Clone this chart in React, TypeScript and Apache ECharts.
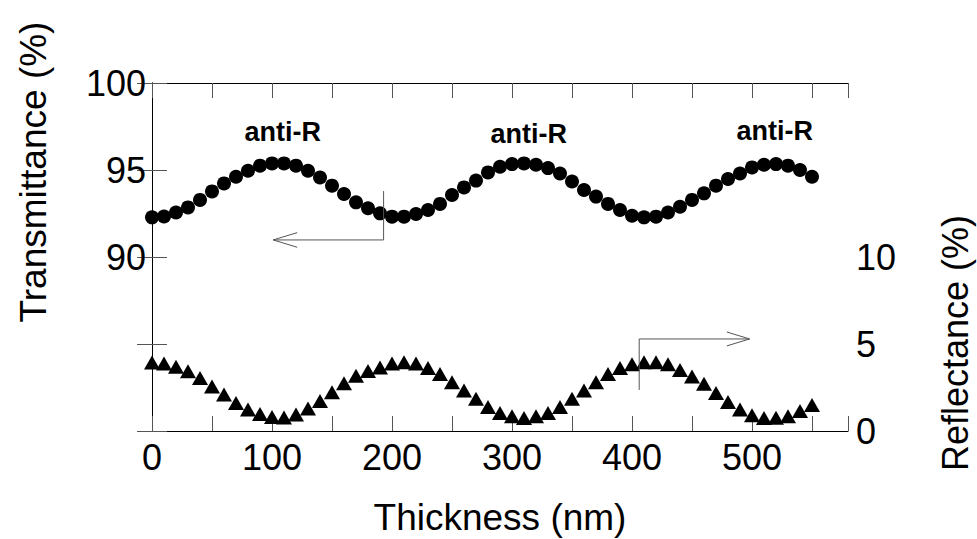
import React, { useEffect, useRef } from "react";
import * as echarts from "echarts";

const thickness = [
  0, 10, 20, 30, 40, 50, 60, 70, 80, 90, 100, 110, 120, 130, 140, 150, 160, 170, 180, 190,
  200, 210, 220, 230, 240, 250, 260, 270, 280, 290, 300, 310, 320, 330, 340, 350, 360, 370, 380, 390,
  400, 410, 420, 430, 440, 450, 460, 470, 480, 490, 500, 510, 520, 530, 540, 550,
];

const transmittance = [
  92.28, 92.33, 92.56, 92.85, 93.28, 93.77, 94.23, 94.61, 94.96, 95.25,
  95.38, 95.38, 95.25, 94.96, 94.57, 94.1, 93.62, 93.14, 92.8, 92.51,
  92.32, 92.32, 92.47, 92.7, 93.05, 93.56, 94.0, 94.39, 94.86, 95.19,
  95.34, 95.38, 95.3, 95.11, 94.8, 94.34, 93.85, 93.47, 93.05, 92.7,
  92.37, 92.28, 92.32, 92.56, 92.89, 93.28, 93.66, 94.1, 94.48, 94.8,
  95.15, 95.3, 95.34, 95.25, 95.0, 94.61,
];

const reflectance = [
  3.94, 3.88, 3.69, 3.43, 3.05, 2.56, 2.1, 1.61, 1.23, 0.97,
  0.8, 0.78, 0.95, 1.29, 1.72, 2.23, 2.75, 3.18, 3.45, 3.65,
  3.88, 3.95, 3.88, 3.62, 3.28, 2.8, 2.33, 1.86, 1.38, 1.04,
  0.85, 0.74, 0.85, 1.04, 1.38, 1.86, 2.33, 2.8, 3.28, 3.62,
  3.84, 3.95, 3.95, 3.84, 3.5, 3.13, 2.71, 2.18, 1.67, 1.23,
  0.91, 0.74, 0.76, 0.85, 1.15, 1.5,
];

// annotation positions (data coords)
const antiRLabels = [
  { x: 109, y: 97.18 },
  { x: 314, y: 97.07 },
  { x: 519, y: 97.24 },
];
const leftArrowLine = [[193, 93.79], [193, 90.98], [101, 90.98]];
const leftArrowHead = [[121, 91.4], [101, 90.98], [121, 90.56]];
const rightArrowLine = [[406, 2.36], [406, 5.29], [498, 5.29]];
const rightArrowHead = [[479, 5.69], [498, 5.29], [479, 4.89]];

const FONT = "'Liberation Sans', Arial, Helvetica, sans-serif";

export default function App() {
  const ref = useRef<HTMLDivElement>(null);
  useEffect(() => {
    if (!ref.current) return;
    const chart = echarts.init(ref.current, undefined, { renderer: "svg" });
    const tData = thickness.map((x, i) => [x, transmittance[i]]);
    const rData = thickness.map((x, i) => [x, reflectance[i]]);
    const axisLine = { show: true, lineStyle: { color: "#000", width: 1 } };
    const tick = { show: true, inside: true, length: 15, lineStyle: { color: "#555", width: 1 } };
    const arrowStyle = { color: "#555", width: 1 };
    chart.setOption({
      animation: false,
      backgroundColor: "#fff",
      textStyle: { fontFamily: FONT },
      grid: { left: 152, right: 129, top: 83, bottom: 108, containLabel: false },
      xAxis: [
        {
          type: "value",
          min: 0,
          max: 580,
          interval: 50,
          position: "bottom",
          axisLine,
          axisTick: tick,
          splitLine: { show: false },
          axisLabel: {
            color: "#000",
            fontSize: 36,
            fontFamily: FONT,
            margin: 8,
            formatter: (v: number) => (v % 100 === 0 && v <= 500 ? String(v) : ""),
          },
        },
        {
          type: "value",
          min: 0,
          max: 580,
          interval: 50,
          position: "top",
          axisLine,
          axisTick: tick,
          splitLine: { show: false },
          axisLabel: { show: false },
        },
      ],
      yAxis: [
        {
          type: "value",
          min: 80,
          max: 100,
          interval: 5,
          position: "left",
          axisLine,
          axisTick: tick,
          splitLine: { show: false },
          axisLabel: {
            color: "#000",
            fontSize: 36,
            fontFamily: FONT,
            margin: 6,
            formatter: (v: number) => (v >= 90 ? String(v) : ""),
          },
        },
        {
          type: "value",
          min: 0,
          max: 20,
          interval: 5,
          position: "right",
          axisLine,
          axisTick: tick,
          splitLine: { show: false },
          axisLabel: {
            color: "#000",
            fontSize: 36,
            fontFamily: FONT,
            margin: 8,
            formatter: (v: number) => (v <= 10 ? String(v) : ""),
          },
        },
      ],
      series: [
        {
          name: "Transmittance",
          type: "scatter",
          xAxisIndex: 0,
          yAxisIndex: 0,
          symbol: "circle",
          symbolSize: 14,
          itemStyle: { color: "#000", opacity: 1 },
          data: tData,
          markPoint: {
            symbol: "circle",
            symbolSize: 0,
            label: {
              show: true,
              position: "inside",
              formatter: "anti-R",
              color: "#000",
              fontWeight: "bold",
              fontSize: 27,
              fontFamily: FONT,
            },
            data: antiRLabels.map((p) => ({ coord: [p.x, p.y] })),
          },
        },
        {
          name: "Reflectance",
          type: "scatter",
          xAxisIndex: 0,
          yAxisIndex: 1,
          symbol: "triangle",
          symbolSize: [16, 14],
          itemStyle: { color: "#000", opacity: 1 },
          data: rData,
        },
        {
          type: "line",
          xAxisIndex: 0,
          yAxisIndex: 0,
          symbol: "none",
          lineStyle: arrowStyle,
          data: leftArrowLine,
          silent: true,
        },
        {
          type: "line",
          xAxisIndex: 0,
          yAxisIndex: 0,
          symbol: "none",
          lineStyle: arrowStyle,
          data: leftArrowHead,
          silent: true,
        },
        {
          type: "line",
          xAxisIndex: 0,
          yAxisIndex: 1,
          symbol: "none",
          lineStyle: arrowStyle,
          data: rightArrowLine,
          silent: true,
        },
        {
          type: "line",
          xAxisIndex: 0,
          yAxisIndex: 1,
          symbol: "none",
          lineStyle: arrowStyle,
          data: rightArrowHead,
          silent: true,
        },
      ],
      graphic: [
        {
          type: "text",
          x: 33,
          y: 172,
          rotation: Math.PI / 2,
          style: {
            text: "Transmittance (%)",
            fontSize: 37,
            fontFamily: FONT,
            fill: "#000",
            align: "center",
            verticalAlign: "middle",
          },
        },
        {
          type: "text",
          x: 955,
          y: 343,
          rotation: Math.PI / 2,
          style: {
            text: "Reflectance (%)",
            fontSize: 36,
            fontFamily: FONT,
            fill: "#000",
            align: "center",
            verticalAlign: "middle",
          },
        },
        {
          type: "text",
          x: 500,
          y: 517,
          style: {
            text: "Thickness (nm)",
            fontSize: 37,
            fontFamily: FONT,
            fill: "#000",
            align: "center",
            verticalAlign: "middle",
          },
        },
      ],
    });
    return () => chart.dispose();
  }, []);
  return (
    <div
      ref={ref}
      style={{ position: "fixed", left: 0, top: 0, width: 977, height: 539, background: "#fff" }}
    />
  );
}
